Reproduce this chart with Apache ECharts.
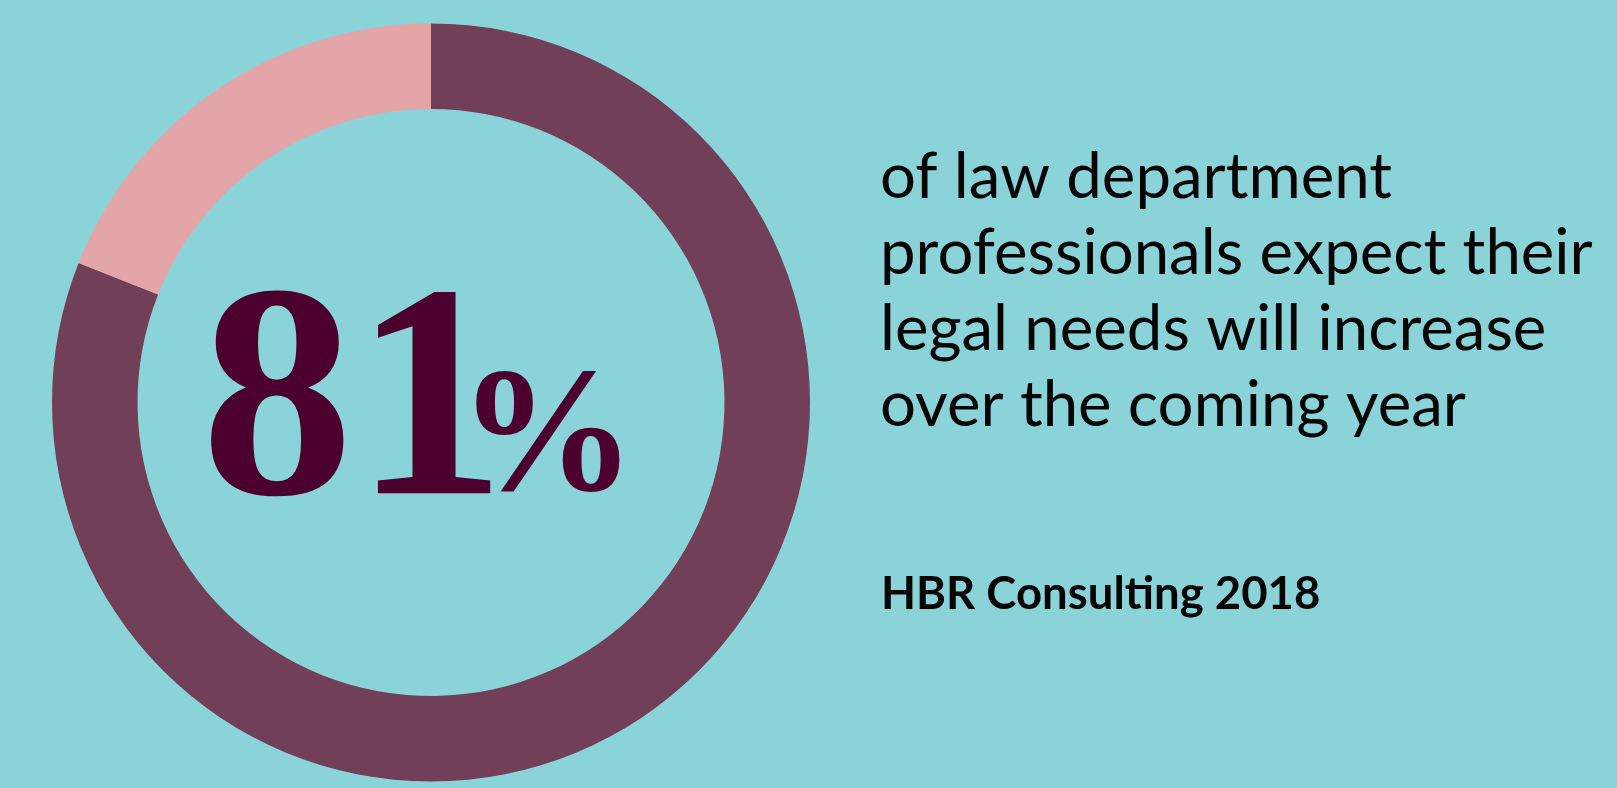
<!DOCTYPE html>
<html>
<head>
<meta charset="utf-8">
<script src="https://cdn.jsdelivr.net/npm/echarts@6/dist/echarts.min.js"></script>
<style>
html,body{margin:0;padding:0;background:#8AD3D8;}
#chart{width:1617px;height:788px;}
</style>
</head>
<body>
<div id="chart"></div>
<script>
const categories = ['Expect increase', 'Other'];
const values = [81, 19];
const sliceColors = ['#713F58', '#E4A5A8'];
const bigNumber = '81';
const bigSuffix = '%';
const statementLines = [
  'of law department',
  'professionals expect their',
  'legal needs will increase',
  'over the coming year'
];
const sourceText = 'HBR Consulting 2018';

const chart = echarts.init(document.getElementById('chart'), null, {renderer: 'canvas'});

const lineEls = statementLines.map((t, i) => ({
  type: 'text',
  left: 880,
  top: 146 + i * 76,
  style: {
    text: t,
    font: '400 63.5px Lato',
    fill: '#050505'
  }
}));

chart.setOption({
  backgroundColor: '#8AD3D8',
  animation: false,
  series: [{
    type: 'pie',
    center: [431, 402.5],
    radius: [293.5, 379],
    startAngle: 90,
    clockwise: true,
    silent: true,
    label: {show: false},
    labelLine: {show: false},
    itemStyle: {borderWidth: 0},
    data: categories.map((c, i) => ({
      name: c,
      value: values[i],
      itemStyle: {color: sliceColors[i]}
    }))
  }],
  graphic: [
    {
      type: 'text',
      left: 201,
      top: 262,
      style: {
        text: bigNumber,
        font: 'bold 305px "Liberation Serif"',
        fill: '#4B002F'
      }
    },
    {
      type: 'text',
      left: 458,
      top: 355,
      style: {
        text: bigSuffix,
        font: 'bold 178px "Liberation Serif"',
        fill: '#4B002F'
      }
    },
    ...lineEls,
    {
      type: 'text',
      left: 881,
      top: 571,
      style: {
        text: sourceText,
        font: 'bold 45.5px Lato',
        fill: '#050505'
      }
    }
  ]
});
</script>
</body>
</html>
